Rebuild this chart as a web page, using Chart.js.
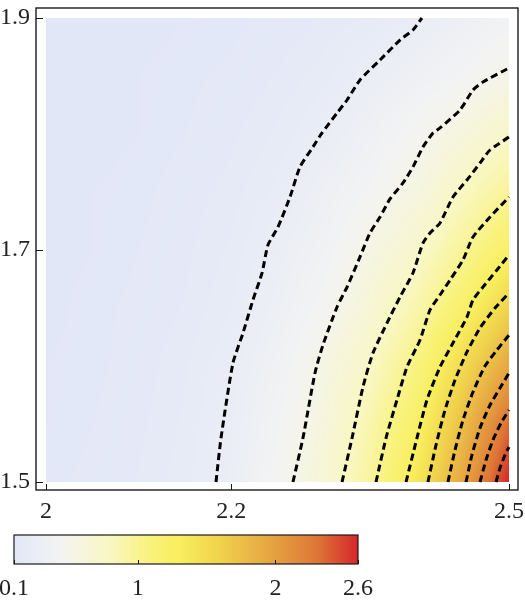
<!DOCTYPE html>
<html>
<head>
<meta charset="utf-8">
<script src="https://cdn.jsdelivr.net/npm/chart.js@4.4.0/dist/chart.umd.min.js"></script>
<style>
  html, body { margin: 0; padding: 0; background: #fff; }
  #wrap { position: relative; width: 525px; height: 605px; }
  #plot { position: absolute; left: 0; top: 0; }
  #bar { position: absolute; left: 0; top: 530px; }
</style>
</head>
<body>
<div id="wrap">
  <canvas id="plot" width="525" height="530" style="width:525px;height:530px"></canvas>
  <canvas id="bar" width="525" height="75" style="width:525px;height:75px"></canvas>
</div>
<script>
// axis ticks
const xTicks = [2, 2.2, 2.5];
const yTicks = [1.5, 1.7, 1.9];
const barTicks = [0.1, 1, 2, 2.6];

// field values (rows = y, columns = x)
const fieldX = [2.0, 2.05, 2.1, 2.15, 2.2, 2.25, 2.3, 2.35, 2.4, 2.45, 2.5];
const fieldY = [1.5, 1.55, 1.6, 1.65, 1.7, 1.75, 1.8, 1.85, 1.9];
const fieldZ = [
    [0.12, 0.14, 0.17, 0.21, 0.28, 0.45, 0.65, 0.95, 1.37, 1.95, 2.60],
    [0.11, 0.13, 0.16, 0.20, 0.27, 0.41, 0.60, 0.88, 1.22, 1.76, 2.34],
    [0.11, 0.12, 0.15, 0.19, 0.25, 0.37, 0.55, 0.76, 1.07, 1.52, 1.95],
    [0.10, 0.12, 0.14, 0.17, 0.22, 0.32, 0.45, 0.65, 0.88, 1.20, 1.59],
    [0.10, 0.11, 0.13, 0.16, 0.20, 0.28, 0.38, 0.55, 0.72, 0.97, 1.23],
    [0.10, 0.11, 0.12, 0.15, 0.18, 0.23, 0.33, 0.43, 0.57, 0.78, 0.98],
    [0.10, 0.10, 0.11, 0.13, 0.16, 0.20, 0.26, 0.35, 0.46, 0.60, 0.74],
    [0.10, 0.10, 0.11, 0.12, 0.14, 0.17, 0.21, 0.27, 0.34, 0.43, 0.52],
    [0.10, 0.10, 0.10, 0.11, 0.12, 0.14, 0.17, 0.20, 0.25, 0.32, 0.40]
];

// contour lines (levels 0.25 ... 2.5), points [x, y]
const contour025 = [[2.1836,1.5],[2.1890,1.5379],[2.2019,1.6026],[2.2127,1.6284],[2.2235,1.6569],[2.2333,1.6802],[2.2397,1.7043],[2.2505,1.7198],[2.2635,1.7457],[2.2743,1.7716],[2.2883,1.7888],[2.2981,1.8009],[2.3143,1.8181],[2.3251,1.8293],[2.3391,1.8466],[2.3607,1.8638],[2.3823,1.8810],[2.3963,1.8897],[2.4060,1.9]];
const contour050 = [[2.2667,1.5],[2.2775,1.5379],[2.2905,1.5940],[2.2991,1.6181],[2.3143,1.6509],[2.3251,1.6681],[2.3391,1.6940],[2.3499,1.7147],[2.3607,1.7284],[2.3715,1.7440],[2.3855,1.7578],[2.3963,1.7716],[2.4071,1.7888],[2.4179,1.8009],[2.4255,1.8052],[2.4471,1.8207],[2.4611,1.8379],[2.4719,1.8448],[2.5,1.8569]];
const contour075 = [[2.3197,1.5],[2.3305,1.5379],[2.3423,1.5819],[2.3531,1.6112],[2.3683,1.6371],[2.3823,1.6595],[2.3963,1.6802],[2.4071,1.7060],[2.4147,1.7147],[2.4255,1.7233],[2.4395,1.7457],[2.4546,1.7603],[2.4687,1.7750],[2.4795,1.7862],[2.5,1.7974]];
const contour100 = [[2.3564,1.5],[2.3672,1.5379],[2.3790,1.5707],[2.3898,1.5991],[2.4039,1.6224],[2.4147,1.6483],[2.4255,1.6612],[2.4363,1.6741],[2.4503,1.6914],[2.4611,1.7112],[2.4795,1.7284],[2.5,1.7457]];
const contour125 = [[2.3888,1.5],[2.4006,1.5379],[2.4114,1.5707],[2.4255,1.5991],[2.4395,1.6198],[2.4546,1.6422],[2.4611,1.6569],[2.4719,1.6681],[2.4870,1.6828],[2.5,1.6957]];
const contour150 = [[2.4125,1.5],[2.4212,1.5319],[2.4309,1.5621],[2.4417,1.5879],[2.4546,1.6121],[2.4687,1.6328],[2.4849,1.6500],[2.5,1.6629]];
const contour175 = [[2.4341,1.5],[2.4417,1.5276],[2.4503,1.5534],[2.4611,1.5776],[2.4741,1.6000],[2.4870,1.6138],[2.5,1.6267]];
const contour200 = [[2.4536,1.5],[2.4600,1.5233],[2.4687,1.5466],[2.4795,1.5664],[2.4903,1.5810],[2.5,1.5940]];
const contour225 = [[2.4687,1.5],[2.4752,1.5190],[2.4827,1.5362],[2.4914,1.5509],[2.5,1.5621]];
const contour250 = [[2.4860,1.5],[2.4903,1.5121],[2.4957,1.5233],[2.5,1.5302]];

const contours = [contour025, contour050, contour075, contour100, contour125,
                  contour150, contour175, contour200, contour225, contour250];

// colour scale of the legend bar
const cmapStops = [
    [0.1, [226, 231, 248]],
    [0.45, [243, 244, 242]],
    [0.8, [249, 247, 192]],
    [1.1, [249, 242, 122]],
    [1.3, [248, 238, 94]],
    [1.6, [240, 210, 76]],
    [2.0, [229, 160, 64]],
    [2.3, [221, 119, 54]],
    [2.6, [212, 38, 42]]
];

const serif = { family: "'Liberation Serif', 'DejaVu Serif', serif", size: 24 };

function colorAt(v) {
    if (v <= cmapStops[0][0]) return cmapStops[0][1];
    for (let i = 1; i < cmapStops.length; i++) {
        const [v1, c1] = cmapStops[i];
        if (v <= v1) {
            const [v0, c0] = cmapStops[i - 1];
            const t = (v - v0) / (v1 - v0);
            return c0.map((c, k) => Math.round(c + (c1[k] - c) * t));
        }
    }
    return cmapStops[cmapStops.length - 1][1];
}

function findCell(arr, v) {
    let i = 0;
    while (i < arr.length - 2 && v > arr[i + 1]) i++;
    const t = Math.max(0, Math.min(1, (v - arr[i]) / (arr[i + 1] - arr[i])));
    return [i, t];
}

// bilinear lookup in the grid
function fieldValue(xv, yv) {
    const [i, tx] = findCell(fieldX, xv);
    const [j, ty] = findCell(fieldY, yv);
    const a = fieldZ[j][i], b = fieldZ[j][i + 1];
    const c = fieldZ[j + 1][i], d = fieldZ[j + 1][i + 1];
    return (a * (1 - tx) + b * tx) * (1 - ty) + (c * (1 - tx) + d * tx) * ty;
}

const fieldPlugin = {
    id: 'field',
    beforeDatasetsDraw(chart) {
        const { ctx, scales: { x, y } } = chart;
        const left = Math.round(x.getPixelForValue(fieldX[0]));
        const right = Math.round(x.getPixelForValue(fieldX[fieldX.length - 1]));
        const top = Math.round(y.getPixelForValue(fieldY[fieldY.length - 1]));
        const bottom = Math.round(y.getPixelForValue(fieldY[0]));
        const w = right - left, h = bottom - top;
        const off = document.createElement('canvas');
        off.width = w;
        off.height = h;
        const octx = off.getContext('2d');
        const img = octx.createImageData(w, h);
        for (let j = 0; j < h; j++) {
            const yv = y.getValueForPixel(top + j + 0.5);
            for (let i = 0; i < w; i++) {
                const xv = x.getValueForPixel(left + i + 0.5);
                const c = colorAt(fieldValue(xv, yv));
                const k = (j * w + i) * 4;
                img.data[k] = c[0];
                img.data[k + 1] = c[1];
                img.data[k + 2] = c[2];
                img.data[k + 3] = 255;
            }
        }
        octx.putImageData(img, 0, 0);
        ctx.drawImage(off, left, top);
    }
};

const framePlugin = {
    id: 'frame',
    afterDraw(chart) {
        const { ctx, chartArea: a, scales: { x, y } } = chart;
        ctx.save();
        ctx.strokeStyle = '#1a1a1a';
        ctx.lineWidth = 1.4;
        ctx.strokeRect(a.left, a.top, a.right - a.left, a.bottom - a.top);
        ctx.lineWidth = 1;
        ctx.beginPath();
        xTicks.forEach(v => {
            const px = Math.round(x.getPixelForValue(v)) + 0.5;
            ctx.moveTo(px, a.bottom);
            ctx.lineTo(px, a.bottom - 6);
        });
        yTicks.forEach(v => {
            const py = Math.round(y.getPixelForValue(v)) + 0.5;
            ctx.moveTo(a.left, py);
            ctx.lineTo(a.left + 7, py);
        });
        ctx.stroke();
        ctx.restore();
    }
};

const barPlugin = {
    id: 'colorbar',
    beforeDatasetsDraw(chart) {
        const { ctx, chartArea: a, scales: { x } } = chart;
        for (let px = Math.floor(a.left); px < Math.ceil(a.right); px++) {
            const c = colorAt(x.getValueForPixel(px + 0.5));
            ctx.fillStyle = `rgb(${c[0]},${c[1]},${c[2]})`;
            ctx.fillRect(px, a.top, 1, a.bottom - a.top);
        }
    },
    afterDraw(chart) {
        const { ctx, chartArea: a, scales: { x } } = chart;
        ctx.save();
        ctx.strokeStyle = '#1a1a1a';
        ctx.lineWidth = 1.2;
        ctx.strokeRect(a.left, a.top, a.right - a.left, a.bottom - a.top);
        ctx.lineWidth = 1;
        ctx.beginPath();
        barTicks.forEach(v => {
            const px = Math.round(x.getPixelForValue(v)) + 0.5;
            ctx.moveTo(px, a.bottom);
            ctx.lineTo(px, a.bottom - 4);
        });
        ctx.stroke();
        ctx.restore();
    }
};

new Chart(document.getElementById('plot'), {
    type: 'scatter',
    data: {
        datasets: contours.map(c => ({
            data: c.map(p => ({ x: p[0], y: p[1] })),
            showLine: true,
            borderColor: '#000',
            borderWidth: 3,
            borderDash: [7, 4],
            pointRadius: 0,
            tension: 0.2,
            fill: false
        }))
    },
    options: {
        responsive: false,
        animation: false,
        events: [],
        layout: { padding: { top: 8, right: 7, left: 0, bottom: 0 } },
        plugins: { legend: { display: false }, tooltip: { enabled: false } },
        scales: {
            x: {
                type: 'linear',
                min: 1.9892,
                max: 2.50972,
                grid: { display: false, drawTicks: false },
                border: { display: false },
                afterBuildTicks: s => { s.ticks = xTicks.map(v => ({ value: v })); },
                afterFit: s => { s.height = 40; s.paddingLeft = 0; s.paddingRight = 0; },
                ticks: { autoSkip: false, maxRotation: 0, padding: 7, color: '#222', font: serif, callback: v => String(v) }
            },
            y: {
                type: 'linear',
                min: 1.4931,
                max: 1.90862,
                grid: { display: false, drawTicks: false },
                border: { display: false },
                afterBuildTicks: s => { s.ticks = yTicks.map(v => ({ value: v })); },
                afterFit: s => { s.width = 36; s.paddingTop = 0; s.paddingBottom = 0; },
                ticks: { autoSkip: false, padding: 6, color: '#222', font: serif, callback: v => String(v) }
            }
        }
    },
    plugins: [fieldPlugin, framePlugin]
});

new Chart(document.getElementById('bar'), {
    type: 'scatter',
    data: { datasets: [] },
    options: {
        responsive: false,
        animation: false,
        events: [],
        layout: { padding: { top: 5, right: 167, left: 14, bottom: 0 } },
        plugins: { legend: { display: false }, tooltip: { enabled: false } },
        scales: {
            x: {
                type: 'linear',
                min: 0.1,
                max: 2.6,
                grid: { display: false, drawTicks: false },
                border: { display: false },
                afterBuildTicks: s => { s.ticks = barTicks.map(v => ({ value: v })); },
                afterFit: s => { s.height = 41; s.paddingLeft = 0; s.paddingRight = 0; },
                ticks: { autoSkip: false, maxRotation: 0, padding: 10, color: '#222', font: serif, callback: v => String(v) }
            },
            y: { display: false, min: 0, max: 1 }
        }
    },
    plugins: [barPlugin]
});
</script>
</body>
</html>
